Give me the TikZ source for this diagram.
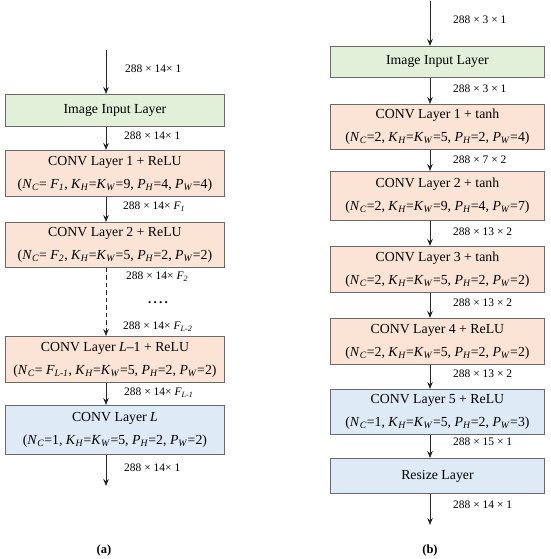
\documentclass[tikz,border=0pt]{standalone}
\usepackage{fontspec}
\setmainfont{Liberation Serif}
\usetikzlibrary{arrows.meta}
\definecolor{ingreen}{RGB}{226,239,217}
\definecolor{convorange}{RGB}{251,228,213}
\definecolor{outblue}{RGB}{222,234,246}
\definecolor{boxgray}{RGB}{105,105,105}
\newcommand{\isub}[2]{\textit{#1}\textsubscript{\textit{#2}}}
\begin{document}
\begin{tikzpicture}[x=1pt,y=-1pt,
  layerbox/.style={draw=boxgray, line width=0.9pt, anchor=north west, inner sep=0pt,
     align=center, font=\fontsize{13.8}{23}\selectfont},
  lboxa/.style={layerbox, minimum width=219pt},
  lboxb/.style={layerbox, minimum width=214pt},
  arr/.style={-{Stealth[length=7pt,width=5.5pt]}, line width=0.8pt, draw=black!85},
  lab/.style={anchor=west, inner sep=0pt, font=\fontsize{11.5}{13}\selectfont},
  captext/.style={inner sep=0pt, font=\fontsize{12.5}{14}\selectfont\bfseries}]
\useasboundingbox (0,0) rectangle (550,559);
% ---------------- panel (a) ----------------
\coordinate (ax) at (106,0);
\coordinate (atop) at (106,50);
\coordinate (aend) at (106,486);
\node[lboxa, fill=ingreen, minimum height=32pt] (ain) at (5,94) {Image Input Layer};
\node[lboxa, fill=convorange, minimum height=46pt] (ac1) at (5,150)
  {CONV Layer 1 + ReLU\\(\isub{N}{C}= \isub{F}{1}, \isub{K}{H}=\isub{K}{W}=9, \isub{P}{H}=4, \isub{P}{W}=4)};
\node[lboxa, fill=convorange, minimum height=45pt] (ac2) at (5,222)
  {CONV Layer 2 + ReLU\\(\isub{N}{C}= \isub{F}{2}, \isub{K}{H}=\isub{K}{W}=5, \isub{P}{H}=2, \isub{P}{W}=2)};
\node[lboxa, fill=convorange, minimum height=46pt] (acl1) at (5,336)
  {CONV Layer \textit{L}–1 + ReLU\\(\isub{N}{C}= \isub{F}{L-1}, \isub{K}{H}=\isub{K}{W}=5, \isub{P}{H}=2, \isub{P}{W}=2)};
\node[lboxa, fill=outblue, minimum height=49pt] (acl) at (5,405)
  {CONV Layer \textit{L}\\(\isub{N}{C}=1, \isub{K}{H}=\isub{K}{W}=5, \isub{P}{H}=2, \isub{P}{W}=2)};
\draw[arr] (atop) -- (ain.north -| ax);
\draw[arr] (ain.south -| ax) -- (ac1.north -| ax);
\draw[arr] (ac1.south -| ax) -- (ac2.north -| ax);
\draw[arr, dashed, dash pattern=on 4.5pt off 3pt, line width=0.9pt] (ac2.south -| ax) -- (acl1.north -| ax);
\draw[arr] (acl1.south -| ax) -- (acl.north -| ax);
\draw[arr] (acl.south -| ax) -- (aend);
\node[lab] (la0) at (125,69) {288 × 14× 1};
\node[lab] (la1) at (124,136) {288 × 14× 1};
\node[lab] (la2) at (123,207) {288 × 14× \isub{F}{1}};
\node[lab] (la3) at (126,277) {288 × 14× \isub{F}{2}};
\node[inner sep=0pt, font=\fontsize{13}{14}\selectfont\bfseries] (ladots) at (158,303)
  {.\hspace{2.2pt}.\hspace{2.2pt}.\hspace{2.2pt}.};
\node[lab] (la4) at (123,327) {288 × 14× \isub{F}{L-2}};
\node[lab] (la5) at (124,393) {288 × 14× \isub{F}{L-1}};
\node[lab] (la6) at (124,468) {288 × 14× 1};
\node[captext] (capa) at (104,550) {(a)};
% ---------------- panel (b) ----------------
\coordinate (bx) at (430,0);
\coordinate (btop) at (430,1);
\coordinate (bend) at (430,525);
\node[lboxb, fill=ingreen, minimum height=31pt] (bin) at (330,46) {Image Input Layer};
\node[lboxb, fill=convorange, minimum height=45pt] (bc1) at (330,104)
  {CONV Layer 1 + tanh\\(\isub{N}{C}=2, \isub{K}{H}=\isub{K}{W}=5, \isub{P}{H}=2, \isub{P}{W}=4)};
\node[lboxb, fill=convorange, minimum height=49pt] (bc2) at (330,171)
  {CONV Layer 2 + tanh\\(\isub{N}{C}=2, \isub{K}{H}=\isub{K}{W}=9, \isub{P}{H}=4, \isub{P}{W}=7)};
\node[lboxb, fill=convorange, minimum height=46pt] (bc3) at (330,246)
  {CONV Layer 3 + tanh\\(\isub{N}{C}=2, \isub{K}{H}=\isub{K}{W}=5, \isub{P}{H}=2, \isub{P}{W}=2)};
\node[lboxb, fill=convorange, minimum height=46pt] (bc4) at (330,318)
  {CONV Layer 4 + ReLU\\(\isub{N}{C}=2, \isub{K}{H}=\isub{K}{W}=5, \isub{P}{H}=2, \isub{P}{W}=2)};
\node[lboxb, fill=outblue, minimum height=45pt] (bc5) at (330,389)
  {CONV Layer 5 + ReLU\\(\isub{N}{C}=1, \isub{K}{H}=\isub{K}{W}=5, \isub{P}{H}=2, \isub{P}{W}=3)};
\node[lboxb, fill=outblue, minimum height=35pt] (brs) at (330,458) {Resize Layer};
\draw[arr] (btop) -- (bin.north -| bx);
\draw[arr] (bin.south -| bx) -- (bc1.north -| bx);
\draw[arr] (bc1.south -| bx) -- (bc2.north -| bx);
\draw[arr] (bc2.south -| bx) -- (bc3.north -| bx);
\draw[arr] (bc3.south -| bx) -- (bc4.north -| bx);
\draw[arr] (bc4.south -| bx) -- (bc5.north -| bx);
\draw[arr] (bc5.south -| bx) -- (brs.north -| bx);
\draw[arr] (brs.south -| bx) -- (bend);
\node[lab] (lb0) at (453,20) {288 × 3 × 1};
\node[lab] (lb1) at (453,89) {288 × 3 × 1};
\node[lab] (lb2) at (453,160) {288 × 7 × 2};
\node[lab] (lb3) at (453,232) {288 × 13 × 2};
\node[lab] (lb4) at (453,303) {288 × 13 × 2};
\node[lab] (lb5) at (453,374) {288 × 13 × 2};
\node[lab] (lb6) at (453,442) {288 × 15 × 1};
\node[lab] (lb7) at (453,505) {288 × 14 × 1};
\node[captext] (capb) at (430,550) {(b)};
\end{tikzpicture}
\end{document}
